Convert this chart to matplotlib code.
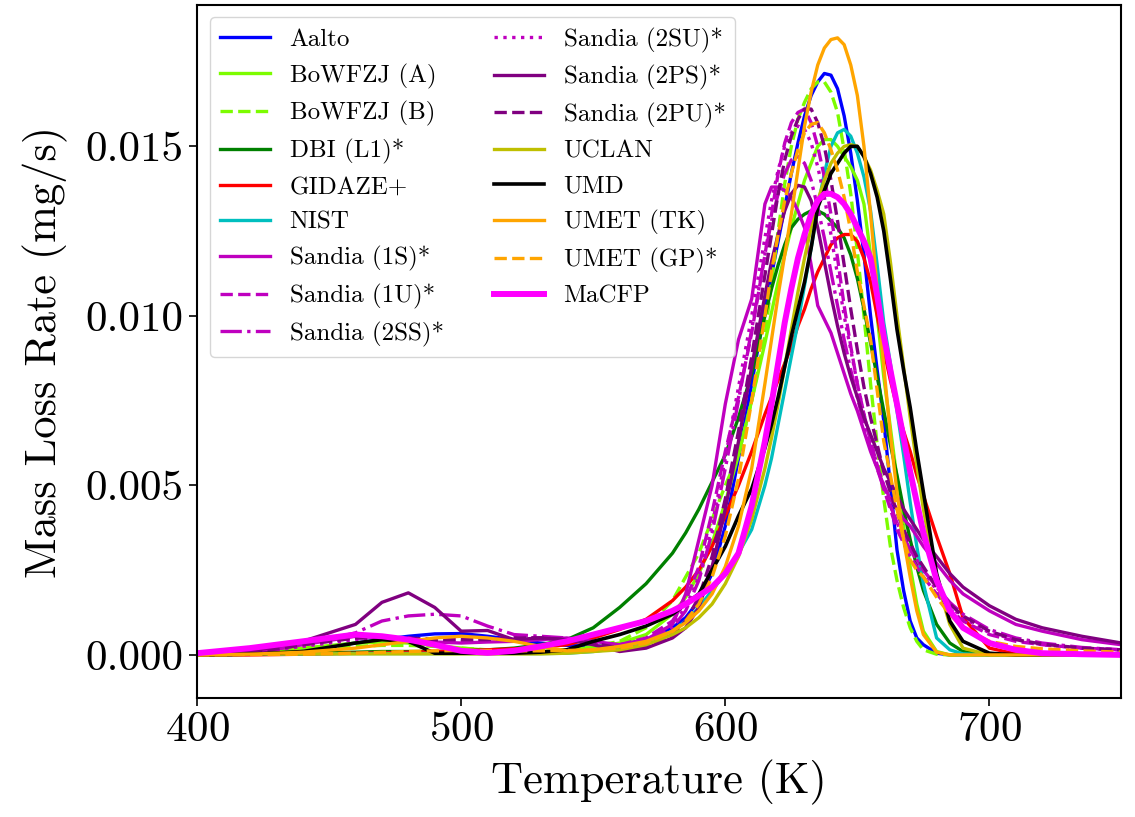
import matplotlib
matplotlib.use("Agg")
import matplotlib.pyplot as plt
from matplotlib.ticker import FormatStrFormatter

plt.rcParams['font.family'] = 'serif'
plt.rcParams['font.serif'] = ['cmr10']
plt.rcParams['mathtext.fontset'] = 'cm'
plt.rcParams['axes.formatter.use_mathtext'] = True

# Temperature grid (K) shared by all curves
temp = [400, 420, 440, 460, 470, 480, 490, 500, 510, 520,
        530, 540, 550, 560, 570, 580, 585, 590, 595, 600,
        605, 610, 615, 617.5, 620, 622.5, 625, 627.5, 630, 632.5,
        635, 637.5, 640, 642.5, 645, 647.5, 650, 652.5, 655, 657.5,
        660, 662.5, 665, 667.5, 670, 672.5, 675, 680, 685, 690,
        700, 710, 720, 735, 750]

# Mass loss rates, in 1e-3 mg/s
aalto = [0, 0.05, 0.15, 0.35, 0.45, 0.55, 0.62, 0.63, 0.55, 0.45,
         0.35, 0.28, 0.25, 0.3, 0.45, 0.8, 1.1, 1.6, 2.4, 3.8,
         5.8, 8.0, 10.2, 11.2, 12.2, 13.2, 14.2, 15.1, 15.9, 16.5,
         16.9, 17.15, 17.1, 16.7, 15.9, 14.8, 13.4, 11.8, 10.0, 8.4,
         6.9, 5.0, 3.1, 1.9, 1.0, 0.5, 0.3, 0.05, 0, 0,
         0, 0, 0, 0, 0]
bowfzj_a = [0, 0.05, 0.2, 0.35, 0.38, 0.35, 0.28, 0.2, 0.14, 0.1,
            0.1, 0.15, 0.22, 0.35, 0.6, 1.2, 1.7, 2.4, 3.3, 4.5,
            5.9, 7.5, 9.2, 10.1, 11.0, 11.8, 12.6, 13.3, 14.0, 14.5,
            15.0, 15.2, 15.2, 15.0, 14.7, 14.4, 14.0, 13.3, 11.8, 10.0,
            8.2, 6.7, 5.2, 3.8, 2.6, 1.5, 0.7, 0.1, 0, 0,
            0, 0, 0, 0, 0]
bowfzj_b = [0, 0.05, 0.15, 0.25, 0.28, 0.28, 0.25, 0.2, 0.15, 0.12,
            0.12, 0.15, 0.25, 0.4, 0.8, 1.6, 2.3, 3.0, 4.0, 5.0,
            5.9, 7.5, 9.4, 11.0, 12.5, 13.9, 15.0, 15.8, 16.3, 16.7,
            16.9, 16.9, 16.6, 16.0, 14.9, 13.6, 11.9, 10.0, 8.0, 6.2,
            4.6, 3.2, 2.2, 1.4, 0.8, 0.4, 0.15, 0.02, 0, 0,
            0, 0, 0, 0, 0]
dbi = [0, 0.02, 0.05, 0.08, 0.1, 0.1, 0.1, 0.12, 0.15, 0.2,
       0.3, 0.45, 0.8, 1.4, 2.1, 3.0, 3.6, 4.3, 5.1, 5.9,
       7.0, 8.3, 10.0, 10.8, 11.5, 12.1, 12.6, 12.85, 13.0, 13.1,
       13.1, 13.0, 12.8, 12.6, 12.3, 11.8, 11.1, 10.2, 9.2, 8.2,
       7.2, 6.2, 5.3, 4.3, 3.4, 2.6, 1.9, 0.9, 0.35, 0.1,
       0, 0, 0, 0, 0]
gidaze = [0, 0, 0.02, 0.05, 0.06, 0.08, 0.1, 0.12, 0.15, 0.18,
          0.22, 0.3, 0.5, 0.75, 1.05, 1.6, 2.0, 2.5, 3.2, 4.1,
          5.0, 6.0, 7.1, 7.6, 8.1, 8.6, 9.1, 9.7, 10.2, 10.8,
          11.3, 11.7, 12.1, 12.3, 12.4, 12.4, 12.2, 11.7, 11.0, 10.0,
          9.0, 8.1, 7.3, 6.6, 6.0, 5.3, 4.7, 3.5, 2.4, 1.1,
          0.2, 0.03, 0, 0, 0]
nist = [0, 0.02, 0.03, 0.04, 0.04, 0.04, 0.04, 0.04, 0.04, 0.04,
        0.04, 0.05, 0.1, 0.2, 0.4, 0.7, 1.0, 1.4, 1.9, 2.4,
        3.0, 3.7, 5.0, 5.8, 6.8, 7.8, 8.8, 9.8, 10.9, 12.0,
        13.2, 14.2, 15.0, 15.4, 15.5, 15.3, 14.8, 14.1, 13.1, 11.5,
        9.8, 8.6, 7.2, 5.9, 4.5, 3.2, 2.1, 0.5, 0.15, 0.03,
        0, 0, 0, 0, 0]
sandia_1s = [0, 0.05, 0.3, 0.55, 0.5, 0.45, 0.38, 0.35, 0.38, 0.4,
             0.45, 0.5, 0.4, 0.3, 0.45, 0.9, 1.8, 3.4, 5.0, 7.4,
             9.3, 10.5, 13.3, 13.8, 13.8, 13.7, 13.5, 13.1, 12.6, 11.5,
             10.3, 9.9, 9.5, 8.9, 8.3, 7.7, 7.2, 6.6, 6.0, 5.5,
             5.0, 4.6, 4.3, 4.0, 3.8, 3.5, 3.2, 2.7, 2.2, 1.8,
             1.3, 0.9, 0.7, 0.45, 0.3]
sandia_1u = [0, 0.05, 0.3, 0.5, 0.5, 0.45, 0.4, 0.4, 0.45, 0.5,
             0.5, 0.45, 0.35, 0.3, 0.5, 1.0, 1.6, 2.6, 4.2, 6.0,
             7.6, 9.5, 11.8, 13.0, 14.2, 15.1, 15.7, 16.0, 16.1, 15.7,
             15.0, 14.1, 13.0, 11.7, 10.3, 9.1, 8.0, 7.1, 6.3, 5.6,
             4.9, 4.3, 3.7, 3.3, 2.9, 2.6, 2.3, 1.8, 1.35, 1.0,
             0.6, 0.4, 0.3, 0.2, 0.15]
sandia_2ss = [0, 0.05, 0.3, 0.65, 1.0, 1.15, 1.2, 1.15, 0.85, 0.6,
              0.55, 0.5, 0.35, 0.25, 0.4, 0.8, 1.3, 2.2, 3.6, 5.5,
              7.5, 9.6, 11.8, 12.8, 13.6, 14.2, 14.6, 14.7, 14.5, 14.0,
              13.2, 12.3, 11.3, 10.3, 9.3, 8.4, 7.6, 6.8, 6.1, 5.5,
              4.9, 4.4, 3.9, 3.5, 3.1, 2.8, 2.5, 2.0, 1.55, 1.2,
              0.75, 0.5, 0.35, 0.22, 0.15]
sandia_2su = [0, 0.05, 0.25, 0.45, 0.5, 0.5, 0.45, 0.45, 0.45, 0.5,
              0.5, 0.45, 0.35, 0.3, 0.45, 0.9, 1.4, 2.3, 3.8, 5.8,
              7.9, 10.0, 12.3, 13.4, 14.3, 15.0, 15.4, 15.6, 15.5, 15.1,
              14.4, 13.5, 12.4, 11.2, 10.0, 9.0, 8.0, 7.1, 6.3, 5.6,
              5.0, 4.4, 3.9, 3.5, 3.1, 2.8, 2.5, 1.9, 1.45, 1.1,
              0.65, 0.45, 0.3, 0.2, 0.15]
sandia_2ps = [0, 0.1, 0.4, 0.9, 1.55, 1.83, 1.4, 0.7, 0.72, 0.45,
              0.5, 0.45, 0.3, 0.1, 0.2, 0.5, 0.8, 1.4, 2.6, 4.3,
              6.3, 8.5, 10.6, 11.6, 12.4, 13.1, 13.6, 13.85, 13.8, 13.4,
              12.6, 11.6, 10.6, 9.7, 8.9, 8.2, 7.6, 7.0, 6.5, 6.0,
              5.5, 5.1, 4.7, 4.3, 4.0, 3.7, 3.4, 2.9, 2.4, 2.0,
              1.45, 1.05, 0.8, 0.55, 0.35]
sandia_2pu = [0, 0.05, 0.3, 0.5, 0.5, 0.5, 0.45, 0.45, 0.45, 0.5,
              0.5, 0.45, 0.35, 0.2, 0.25, 0.6, 1.0, 1.7, 2.9, 4.6,
              6.6, 8.8, 11.2, 12.4, 13.6, 14.6, 15.3, 15.8, 16.1, 16.1,
              15.7, 15.0, 14.0, 12.8, 11.5, 10.2, 9.0, 7.9, 7.0, 6.2,
              5.4, 4.8, 4.2, 3.7, 3.3, 2.9, 2.6, 2.0, 1.5, 1.15,
              0.7, 0.45, 0.32, 0.2, 0.15]
uclan = [0, 0.02, 0.03, 0.03, 0.03, 0.03, 0.03, 0.03, 0.03, 0.03,
         0.03, 0.05, 0.1, 0.15, 0.3, 0.6, 0.8, 1.1, 1.5, 2.1,
         2.9, 4.0, 5.5, 6.4, 7.4, 8.5, 9.6, 10.7, 11.7, 12.6,
         13.4, 14.0, 14.5, 14.8, 15.0, 15.05, 15.0, 14.7, 14.3, 13.7,
         13.0, 11.6, 10.0, 8.5, 7.0, 5.6, 4.3, 2.2, 0.9, 0.2,
         0, 0, 0, 0, 0]
umd = [0, 0.02, 0.1, 0.35, 0.45, 0.4, 0.05, 0.05, 0.05, 0.05,
       0.08, 0.15, 0.4, 0.6, 0.85, 1.2, 1.5, 1.8, 2.5, 3.2,
       4.1, 4.9, 6.1, 6.8, 7.6, 8.5, 9.4, 10.2, 11.0, 12.0,
       13.2, 13.7, 14.2, 14.5, 14.8, 15.0, 15.0, 14.7, 14.2, 13.5,
       12.5, 11.1, 9.6, 8.4, 7.3, 6.0, 4.8, 2.4, 1.0, 0.4,
       0.05, 0, 0, 0, 0]
umet_tk = [0, 0.02, 0.08, 0.2, 0.3, 0.4, 0.5, 0.55, 0.5, 0.4,
           0.25, 0.12, 0.15, 0.25, 0.4, 0.7, 0.95, 1.3, 1.8, 2.6,
           3.8, 5.5, 8.0, 9.3, 10.6, 11.8, 13.0, 14.3, 15.6, 16.6,
           17.4, 17.9, 18.15, 18.2, 18.0, 17.4, 16.5, 15.0, 13.0, 10.8,
           8.5, 6.5, 4.8, 3.4, 2.3, 1.3, 0.6, 0.08, 0, 0,
           0, 0, 0, 0, 0]
umet_gp = [0, 0.01, 0.02, 0.05, 0.08, 0.1, 0.12, 0.13, 0.13, 0.12,
           0.12, 0.13, 0.15, 0.2, 0.35, 0.7, 1.0, 1.5, 2.3, 3.5,
           5.2, 7.5, 10.0, 11.3, 12.4, 13.4, 14.2, 14.9, 15.4, 15.65,
           15.7, 15.4, 14.9, 14.3, 13.5, 12.5, 11.3, 10.3, 9.3, 7.8,
           6.3, 5.3, 4.3, 3.4, 2.8, 2.5, 2.3, 1.7, 1.2, 0.8,
           0.4, 0.25, 0.18, 0.12, 0.08]
macfp = [0.05, 0.2, 0.4, 0.6, 0.55, 0.45, 0.3, 0.12, 0.06, 0.12,
         0.25, 0.4, 0.6, 0.8, 1.0, 1.3, 1.5, 1.75, 2.0, 2.4,
         3.0, 4.4, 6.3, 7.4, 8.6, 9.8, 10.8, 11.7, 12.4, 13.0,
         13.4, 13.6, 13.6, 13.5, 13.3, 13.0, 12.6, 12.2, 11.7, 10.6,
         9.4, 8.4, 7.4, 6.4, 5.4, 4.5, 3.6, 2.2, 1.3, 0.8,
         0.35, 0.15, 0.05, 0.02, 0.0]

# label, data, colour, linestyle, linewidth
curves = [
    ('Aalto', aalto, 'b', '-', 2.4),
    ('BoWFZJ (A)', bowfzj_a, 'lawngreen', '-', 2.4),
    ('BoWFZJ (B)', bowfzj_b, 'lawngreen', '--', 2.4),
    ('DBI (L1)*', dbi, 'g', '-', 2.4),
    ('GIDAZE+', gidaze, 'r', '-', 2.4),
    ('NIST', nist, 'c', '-', 2.4),
    ('Sandia (1S)*', sandia_1s, 'm', '-', 2.4),
    ('Sandia (1U)*', sandia_1u, 'm', '--', 2.4),
    ('Sandia (2SS)*', sandia_2ss, 'm', '-.', 2.4),
    ('Sandia (2SU)*', sandia_2su, 'm', ':', 2.4),
    ('Sandia (2PS)*', sandia_2ps, 'purple', '-', 2.4),
    ('Sandia (2PU)*', sandia_2pu, 'purple', '--', 2.4),
    ('UCLAN', uclan, 'y', '-', 2.4),
    ('UMD', umd, 'k', '-', 2.6),
    ('UMET (TK)', umet_tk, 'orange', '-', 2.4),
    ('UMET (GP)*', umet_gp, 'orange', '--', 2.4),
    ('MaCFP', macfp, 'magenta', '-', 4.3),
]

fig = plt.figure(figsize=(11.35, 8.17), dpi=100)
ax = fig.add_axes([0.1736, 0.1457, 0.8145, 0.8482])

for label, vals, col, ls, lw in curves:
    ax.plot(temp, [v * 1e-3 for v in vals], color=col, linestyle=ls,
            linewidth=lw, label=label)

ax.set_xlim(400, 750)
ax.set_ylim(-0.00127, 0.01917)
ax.set_xticks([400, 500, 600, 700])
ax.set_yticks([0.0, 0.005, 0.010, 0.015])
ax.yaxis.set_major_formatter(FormatStrFormatter('%.3f'))
ax.tick_params(labelsize=31, length=6, width=1.2)
for s in ax.spines.values():
    s.set_linewidth(1.5)

ax.set_xlabel('Temperature (K)', fontsize=32, labelpad=8)
ax.set_ylabel('Mass Loss Rate (mg/s)', fontsize=32, labelpad=13)

ax.legend(ncol=2, loc='upper left', fontsize=18, labelspacing=0.5,
          handlelength=2.0, columnspacing=2.0)

fig.savefig('out.png', dpi=100)
